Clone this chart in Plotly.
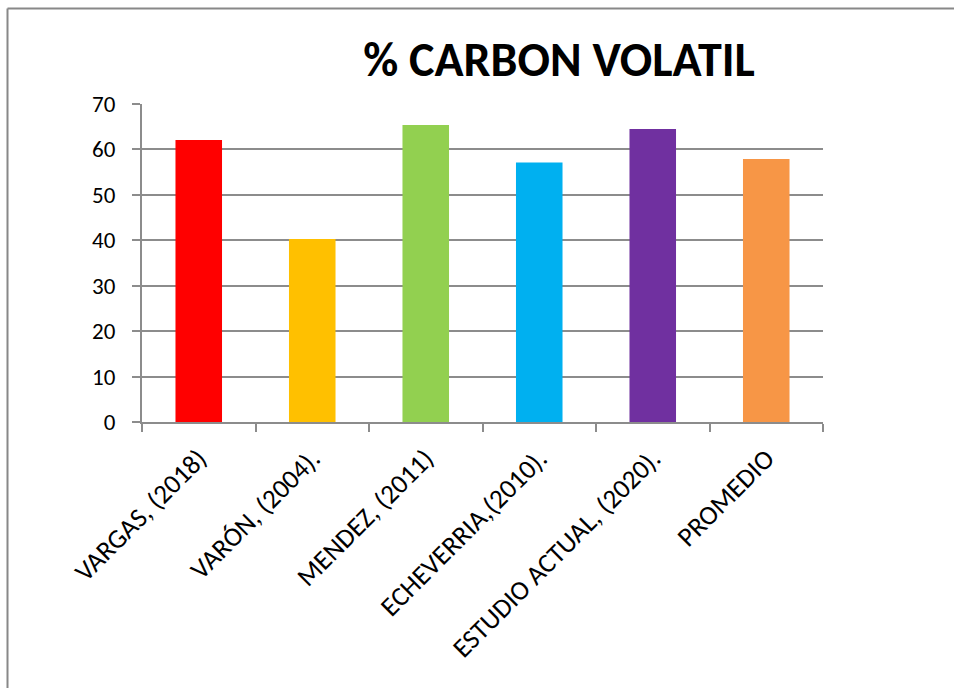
import plotly.graph_objects as go

# Volatile carbon content reported by each source, plus the average
categories = [
    "VARGAS, (2018)",
    "VARÓN, (2004).",
    "MENDEZ, (2011)",
    "ECHEVERRIA,(2010).",
    "ESTUDIO ACTUAL, (2020).",
    "PROMEDIO",
]
values = [62.1, 40.3, 65.4, 57.1, 64.5, 57.9]
bar_colors = ["#FF0000", "#FFC000", "#92D050", "#00B0F0", "#7030A0", "#F79646"]
y_ticks = [0, 10, 20, 30, 40, 50, 60, 70]

W, H = 954, 688
L, R, T, B = 142, 131, 104, 266  # margins in px
FONT = "Carlito, Calibri, Lato, sans-serif"
GRID = "#8c8c8c"

fig = go.Figure(
    go.Bar(
        x=categories,
        y=values,
        marker=dict(color=bar_colors, line=dict(width=0)),
        width=0.41,
        hoverinfo="x+y",
    )
)

# paper-coordinate helpers for the outer chart frame
pw, ph = W - L - R, H - T - B
def px_x(px):
    return (px - L) / pw
def px_y(py):
    return (H - B - py) / ph

frame_x, frame_y = 7.5, 8.5
fig.add_shape(type="line", xref="paper", yref="paper",
              x0=px_x(frame_x), x1=px_x(W + 5), y0=px_y(frame_y), y1=px_y(frame_y),
              line=dict(color="#888888", width=2))
fig.add_shape(type="line", xref="paper", yref="paper",
              x0=px_x(frame_x), x1=px_x(frame_x), y0=px_y(frame_y), y1=px_y(H + 5),
              line=dict(color="#888888", width=2))

fig.update_layout(
    width=W,
    height=H,
    margin=dict(l=L, r=R, t=T, b=B),
    paper_bgcolor="white",
    plot_bgcolor="white",
    showlegend=False,
    font=dict(family=FONT, color="black"),
    title=dict(
        text="<b>% CARBON VOLATIL</b>",
        font=dict(family=FONT, size=48, color="black"),
        xref="container", yref="container",
        x=559 / W, y=1 - 59 / H,
        xanchor="center", yanchor="middle",
    ),
    xaxis=dict(
        type="category",
        range=[-0.5, 5.5],
        showline=True, linecolor=GRID, linewidth=2,
        ticks="outside", tickson="boundaries", ticklen=8, tickwidth=2, tickcolor=GRID,
        tickangle=-45,
        tickfont=dict(family=FONT, size=27, color="black"),
        ticklabelstandoff=8,
        showgrid=False,
    ),
    yaxis=dict(
        range=[0, 70],
        tickvals=y_ticks,
        showline=True, linecolor=GRID, linewidth=2,
        ticks="outside", ticklen=8, tickwidth=2, tickcolor=GRID,
        showgrid=True, gridcolor=GRID, gridwidth=2,
        zeroline=False,
        tickfont=dict(family=FONT, size=23, color="black"),
        ticklabelstandoff=12,
    ),
)

fig.write_html("out.html")
